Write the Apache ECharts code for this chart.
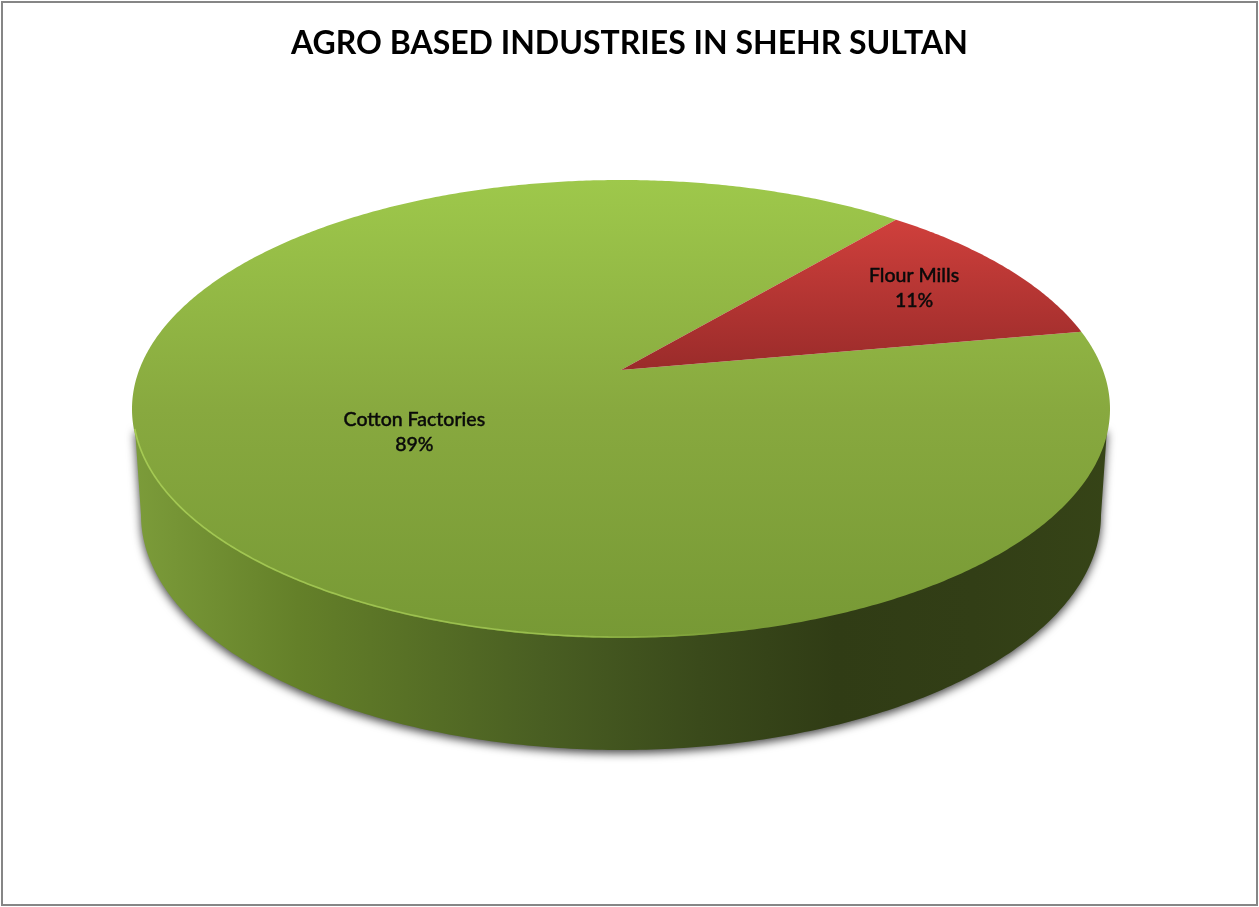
<!DOCTYPE html>
<html>
<head>
<meta charset="utf-8">
<style>html,body{margin:0;padding:0;background:#fff}#chart{width:1259px;height:907px}</style>
<script src="https://cdn.jsdelivr.net/npm/echarts@6/dist/echarts.min.js"></script>
</head>
<body>
<div id="chart"></div>
<script>
// Data
var titleText = 'AGRO BASED INDUSTRIES IN SHEHR SULTAN';
var categories = ['Cotton Factories', 'Flour Mills'];
var values = [89, 11];

// Layout and styling of the perspective pie
var TOP = { cx: 621, cy: 409, rx: 489, ry: 229 };
var BASE = { cx: 621, cy: 515, rx: 480, ry: 235 };
var TILT = 0.17;                // how far the apex sits above the ellipse centre (perspective)
var START_DEG = 79.75;          // clockwise from north, first slice start
var LABEL_POS = [[0.488, -2.9], [0.758, -1.1]]; // radius fraction, angle shift
var G = echarts.graphic.LinearGradient;

var sliceFills = [
  new G(0, 180, 0, 638, [{offset:0,color:'#9ec84b'},{offset:0.5,color:'#88a93f'},{offset:1,color:'#779935'}], true),
  new G(0, 218, 0, 370, [{offset:0,color:'#d0403c'},{offset:1,color:'#9a2b2a'}], true)
];
var wallFill = new G(132, 0, 1110, 0, [
  {offset:0,color:'#7c9c3a'},{offset:0.17,color:'#648029'},{offset:0.42,color:'#495e22'},
  {offset:0.58,color:'#3a4a1b'},{offset:0.72,color:'#303c15'},{offset:0.86,color:'#323e16'},{offset:1,color:'#364417'}
], true);
var rimStroke = new G(132, 0, 760, 0, [
  {offset:0,color:'rgba(176,214,92,0.75)'},{offset:0.7,color:'rgba(170,208,90,0.65)'},{offset:1,color:'rgba(150,190,70,0)'}
], true);

// Map an angle (degrees clockwise from north) and radius fraction on the true disc to the screen
function project(deg, r) {
  var t = (90 - deg) * Math.PI / 180;
  var x = r * Math.cos(t), y = r * Math.sin(t);
  var d = 1 + TILT * y;
  return [TOP.cx + TOP.rx * x * Math.sqrt(1 - TILT * TILT) / d,
          TOP.cy - TOP.ry * (y + TILT) / d];
}
function total() { return values.reduce(function (a, b) { return a + b; }, 0); }
function startOf(i) {
  var s = 0;
  for (var k = 0; k < i; k++) s += values[k];
  return START_DEG + s / total() * 360;
}
function arcPoints(e, from, to) {
  var pts = [], n = 240;
  for (var i = 0; i <= n; i++) {
    var a = (from + (to - from) * i / n) * Math.PI / 180;
    pts.push([e.cx + e.rx * Math.cos(a), e.cy + e.ry * Math.sin(a)]);
  }
  return pts;
}

function renderWall() {
  var pts = [[TOP.cx - TOP.rx + 3, TOP.cy + 20]]
    .concat(arcPoints(BASE, 180, 0))
    .concat([[TOP.cx + TOP.rx - 3, TOP.cy + 20]]);
  return {
    type: 'polygon',
    shape: { points: pts },
    style: { fill: wallFill, shadowBlur: 10, shadowColor: 'rgba(0,0,0,0.75)', shadowOffsetX: 0, shadowOffsetY: 3 }
  };
}

function renderSlice(params, api) {
  var i = params.dataIndex;
  var from = startOf(i), sweep = api.value(0) / total() * 360;
  var pts = [project(0, 0)];
  var n = Math.max(24, Math.round(sweep * 2));
  for (var k = 0; k <= n; k++) pts.push(project(from + sweep * k / n, 1));
  var lp = LABEL_POS[i];
  var c = project(from + sweep / 2 + lp[1], lp[0]);
  return {
    type: 'group',
    children: [
      { type: 'polygon', shape: { points: pts }, style: { fill: sliceFills[i] } },
      { type: 'text', z2: 10, style: {
          x: c[0], y: c[1], align: 'center', verticalAlign: 'middle',
          text: categories[i] + '\n' + Math.round(api.value(0) / total() * 100) + '%',
          font: '500 19.5px Lato', lineHeight: 25, fill: '#0a0a0a', stroke: '#0a0a0a', lineWidth: 0.4
      } }
    ]
  };
}

function renderRim() {
  return {
    type: 'polyline',
    shape: { points: arcPoints({ cx: TOP.cx, cy: TOP.cy, rx: TOP.rx - 1, ry: TOP.ry - 1 }, 175, 75) },
    style: { fill: null, stroke: rimStroke, lineWidth: 1.6 }
  };
}

var chart = echarts.init(document.getElementById('chart'), null, { renderer: 'canvas' });
chart.setOption({
  backgroundColor: '#ffffff',
  animation: false,
  title: {
    text: titleText, left: 'center', top: 23,
    textStyle: { fontFamily: 'Lato', fontWeight: 'bold', fontSize: 32, color: '#000000' }
  },
  graphic: [{
    type: 'rect', silent: true, z: -1,
    shape: { x: 2, y: 2, width: 1255, height: 903 },
    style: { fill: null, stroke: '#868686', lineWidth: 2 }
  }],
  series: [
    { type: 'custom', coordinateSystem: 'none', silent: true, z: 1, data: [total()], renderItem: renderWall },
    { type: 'custom', coordinateSystem: 'none', silent: true, z: 2, data: values, renderItem: renderSlice },
    { type: 'custom', coordinateSystem: 'none', silent: true, z: 3, data: [total()], renderItem: renderRim }
  ]
});
</script>
</body>
</html>
